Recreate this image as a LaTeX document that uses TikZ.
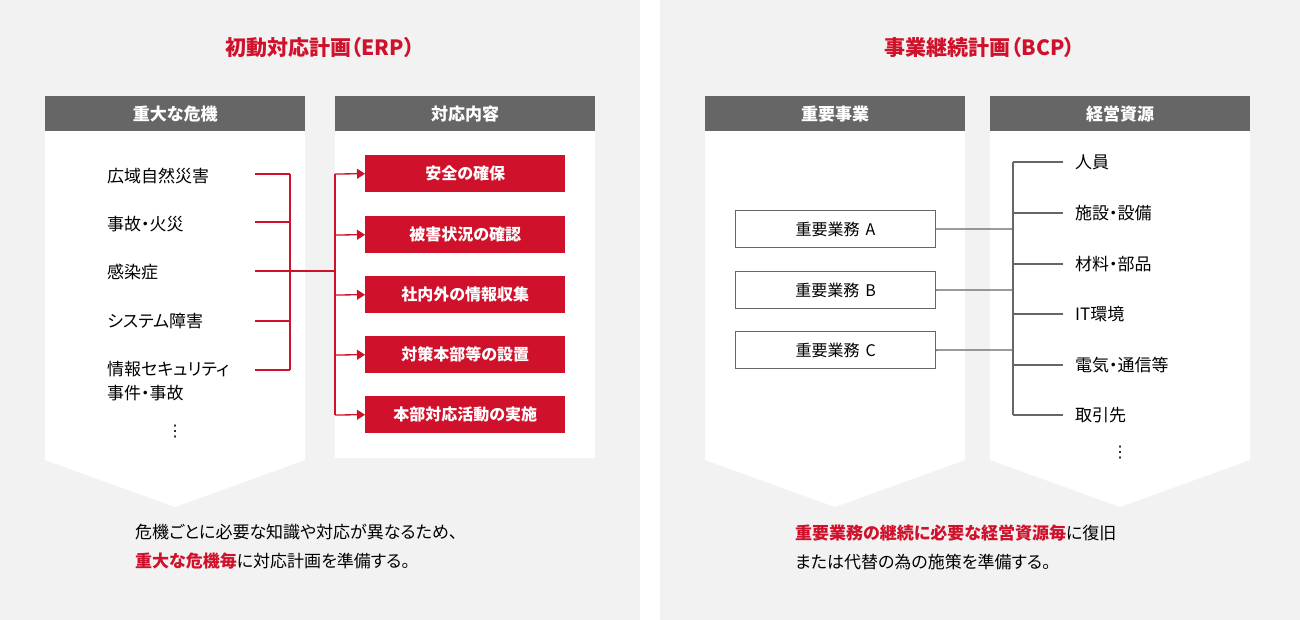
\documentclass[tikz,border=0pt]{standalone}
\usepackage{fontspec}
\setmainfont[RawFeature=+palt]{Noto Sans CJK JP}
\newfontfamily\dvs{DejaVu Sans}
\definecolor{bg}{HTML}{F2F2F2}
\definecolor{hd}{HTML}{666666}
\definecolor{rd}{HTML}{D0112B}
\usetikzlibrary{arrows.meta}
\tikzset{x=1pt,y=-1pt,
 hdr/.style={fill=hd,text=white,font=\fontsize{17}{17}\selectfont\bfseries,minimum width=260pt,minimum height=35pt,inner sep=0,anchor=north west},
 item/.style={anchor=west,font=\fontsize{17}{24}\selectfont,align=left,inner sep=0},
 rbox/.style={fill=rd,text=white,font=\fontsize{16}{16}\selectfont\bfseries,minimum width=200pt,minimum height=37pt,inner sep=0,anchor=north west},
 wbox/.style={draw=hd,line width=1.2pt,fill=white,font=\fontsize{16}{16}\selectfont,minimum width=200pt,minimum height=37pt,inner sep=0,anchor=north west},
 rl/.style={draw=rd,line width=1.3pt},
 gl/.style={draw=hd,line width=1.3pt},
 ttl/.style={text=rd,font=\fontsize{21}{21}\selectfont\bfseries},
 dots/.style={font=\dvs\fontsize{16}{16}\selectfont},
 captxt/.style={anchor=west,font=\fontsize{17}{29}\selectfont,align=left,inner sep=0}}
\begin{document}
\begin{tikzpicture}
\useasboundingbox (0,0) rectangle (1300,620);
\fill[bg] (0,0) rectangle (640,620);
\fill[bg] (660,0) rectangle (1300,620);
\node[ttl] (t1) at (320,48) {初動対応計画（ERP）};
\node[ttl] (t2) at (980,48) {事業継続計画（BCP）};
% left columns
\fill[white] (45,131) -- (305,131) -- (305,460) -- (175,507) -- (45,460) -- cycle;
\node[hdr] (h1) at (45,96) {重大な危機};
\fill[white] (335,131) rectangle (595,458);
\node[hdr] (h2) at (335,96) {対応内容};
\node[item] (c1) at (107,176) {広域自然災害};
\node[item] (c2) at (107,224) {事故・火災};
\node[item] (c3) at (107,272) {感染症};
\node[item] (c4) at (107,321) {システム障害};
\node[item] (c5) at (107,381) {情報セキュリティ\\事件・事故};
\node[dots] (cd) at (175,432) {⋮};
\coordinate (v1) at (290,174); \coordinate (v5) at (290,370);
\coordinate (m) at (290,271); \coordinate (j) at (335,271);
\coordinate (ja) at (335,174); \coordinate (jb) at (335,415);
\foreach \y in {174,222,271,321,370}{\draw[rl] (255,\y) -- (290,\y);}
\draw[rl] (v1) -- (v5);
\draw[rl] (m) -- (j);
\draw[rl] (ja) -- (jb);
\node[rbox] (r1) at (365,155) {安全の確保};
\node[rbox] (r2) at (365,216) {被害状況の確認};
\node[rbox] (r3) at (365,276) {社内外の情報収集};
\node[rbox] (r4) at (365,336) {対策本部等の設置};
\node[rbox] (r5) at (365,396) {本部対応活動の実施};
\foreach \n/\y in {r1/174,r2/235,r3/295,r4/355,r5/415}{\draw[rl,-{Triangle[length=8pt,width=10pt]}] (335,\y) -- (\n.west);}
\node[captxt] (cp1) at (135,547) {危機ごとに必要な知識や対応が異なるため、\\{\color{rd}\bfseries 重大な危機毎}に対応計画を準備する。};
% right
\fill[white] (705,131) -- (965,131) -- (965,460) -- (835,507) -- (705,460) -- cycle;
\node[hdr] (h3) at (705,96) {重要事業};
\fill[white] (990,131) -- (1250,131) -- (1250,460) -- (1120,507) -- (990,460) -- cycle;
\node[hdr] (h4) at (990,96) {経営資源};
\node[wbox] (b1) at (735,210) {重要業務\hspace{6pt}A};
\node[wbox] (b2) at (735,271) {重要業務\hspace{6pt}B};
\node[wbox] (b3) at (735,331) {重要業務\hspace{6pt}C};
\coordinate (ta) at (1013,162); \coordinate (tb) at (1013,415);
\draw[gl] (ta) -- (tb);
\draw[gl] (b1.east) -- (1013,229);
\draw[gl] (b2.east) -- (1013,290);
\draw[gl] (b3.east) -- (1013,350);
\foreach \y/\t in {162/人員,213/施設・設備,264/材料・部品,314/IT環境,365/電気・通信等,415/取引先}{
 \draw[gl] (1013,\y) -- (1063,\y);
 \node[item] at (1075,\y) {\t};}
\node[dots] (rdots) at (1120,453) {⋮};
\node[captxt] (cp2) at (795,547) {{\color{rd}\bfseries 重要業務の継続に必要な経営資源毎}に復旧\\または代替の為の施策を準備する。};
\end{tikzpicture}
\end{document}
